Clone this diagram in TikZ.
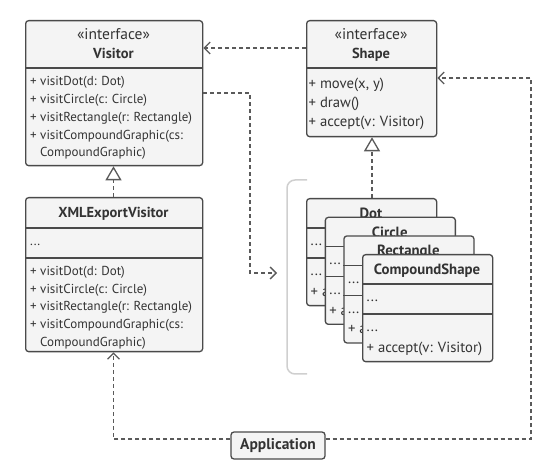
\documentclass[tikz,border=0pt]{standalone}
\usepackage{fontspec}
\setmainfont{PT Sans}
\usetikzlibrary{arrows.meta}
\definecolor{boxline}{HTML}{4A4A4A}
\definecolor{boxfill}{HTML}{F4F4F4}
\definecolor{ink}{HTML}{333333}
\definecolor{link}{HTML}{5A5A5A}
\definecolor{bracket}{HTML}{CFCFCF}
\tikzset{
  umlbox/.style={draw=boxline, fill=boxfill, line width=1.3pt, rounded corners=3pt,
    inner sep=0pt, anchor=north west},
  divider/.style={draw=boxline, line width=1.3pt},
  member/.style={anchor=base west, inner sep=0pt, text=ink, font=\fontsize{13}{15}\selectfont},
  bigmember/.style={member, font=\fontsize{14.7}{17}\selectfont},
  stereo/.style={anchor=base, inner sep=0pt, text=ink, font=\fontsize{15.5}{17}\selectfont},
  title/.style={anchor=base, inner sep=0pt, text=ink, font=\bfseries\fontsize{14.5}{16}\selectfont},
  bigtitle/.style={title, font=\bfseries\fontsize{14.8}{17}\selectfont},
  dep/.style={draw=link, line width=1.2pt, dash pattern=on 4pt off 3pt,
    -{Straight Barb[length=6pt,width=12pt,line width=1.3pt]}},
  real/.style={draw=link, line width=1.2pt, dash pattern=on 4pt off 3pt,
    -{Triangle[open, length=14pt, width=16pt, line width=1.3pt, fill=white]}},
}
\begin{document}
\begin{tikzpicture}[x=1pt, y=-1pt]
\useasboundingbox (0,0) rectangle (560,470);

% ---------- Visitor interface ----------
\node[umlbox, minimum width=177pt, minimum height=145pt] (visitor) at (25,20) {};
\draw[divider] (25,68) -- (202,68);
\node[stereo] (visitorSt) at (113.5,40) {«interface»};
\node[title] (visitorT) at (113.5,59) {Visitor};
\node[member] (v1) at (30,85.5) {+ visitDot(d: Dot)};
\node[member] (v2) at (30,103.5) {+ visitCircle(c: Circle)};
\node[member] (v3) at (30,121.5) {+ visitRectangle(r: Rectangle)};
\node[member] (v4) at (30,139.5) {+ visitCompoundGraphic(cs:};
\node[member] (v5) at (40,157) {CompoundGraphic)};

% ---------- Shape interface ----------
\node[umlbox, minimum width=130pt, minimum height=116pt] (shape) at (306,20) {};
\draw[divider] (306,68) -- (436,68);
\node[stereo] (shapeSt) at (371,40) {«interface»};
\node[title] (shapeT) at (371,59) {Shape};
\node[bigmember] (s1) at (308.5,88.5) {+ move(x, y)};
\node[bigmember] (s2) at (308.5,107.5) {+ draw()};
\node[bigmember] (s3) at (308.5,126.5) {+ accept(v: Visitor)};

% ---------- XMLExportVisitor ----------
\node[umlbox, minimum width=177pt, minimum height=154pt] (xml) at (25,197) {};
\draw[divider] (25,228) -- (202,228);
\draw[divider] (25,258) -- (202,258);
\node[title] (xmlT) at (113.5,218) {XMLExportVisitor};
\node[member] (xa) at (30,246) {...};
\node[member] (x1) at (30,276) {+ visitDot(d: Dot)};
\node[member] (x2) at (30,293.5) {+ visitCircle(c: Circle)};
\node[member] (x3) at (30,311) {+ visitRectangle(r: Rectangle)};
\node[member] (x4) at (30,329) {+ visitCompoundGraphic(cs:};
\node[member] (x5) at (40,346.5) {CompoundGraphic)};

% ---------- concrete shapes, stacked ----------
\draw[bracket, line width=1.5pt, rounded corners=8pt] (307,180) -- (287,180) -- (287,374) -- (307,374);
\foreach \n/\name/\dx/\dy in {dot/Dot/306/198, circle/Circle/324.7/216.7, rect/Rectangle/343.3/235.3, compound/CompoundShape/362/254}{
  \node[umlbox, minimum width=130pt, minimum height=107pt] (\n) at (\dx,\dy) {};
  \draw[divider] (\dx,\dy+30) -- (\dx+130,\dy+30);
  \draw[divider] (\dx,\dy+60) -- (\dx+130,\dy+60);
  \node[bigtitle] (\n T) at (\dx+65,\dy+20.5) {\name};
  \node[bigmember] (\n A) at (\dx+4.5,\dy+48) {...};
  \node[bigmember] (\n M) at (\dx+4.5,\dy+78) {...};
  \node[bigmember] (\n B) at (\dx+4.5,\dy+98.5) {+ accept(v: Visitor)};
}

% ---------- client ----------
\node[draw=boxline, fill=boxfill, line width=1.3pt, rounded corners=3pt,
  minimum width=94pt, minimum height=27pt, inner sep=0pt,
  text=ink, font=\bfseries\fontsize{15.5}{17}\selectfont] (app) at (278,445.5) {Application};

% ---------- relations ----------
\coordinate (groupIn) at (277,273);
\draw[dep] (shape.west |- 0,48) -- (visitor.east |- 0,48);
\draw[dep] (visitor.east |- 0,93) -- (250,93) -- (250,273) -- (groupIn);
\draw[real] (xml.north -| 113.5,0) -- (visitor.south -| 113.5,0);
\draw[real] (dot.north -| 372,0) -- (shape.south -| 372,0);
\draw[dep] (app.west |- 0,439) -- (113.5,439) -- (xml.south -| 113.5,0);
\draw[dep] (app.east |- 0,439) -- (531,439) -- (531,78) -- (shape.east |- 0,78);
\end{tikzpicture}
\end{document}
